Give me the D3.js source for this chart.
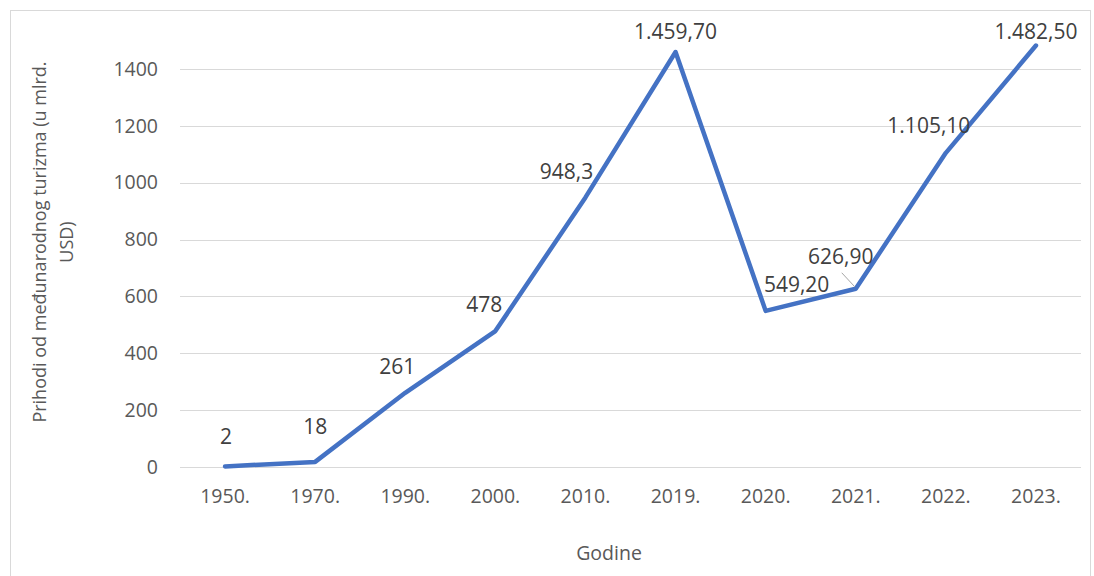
<!DOCTYPE html>
<html>
<head>
<meta charset="utf-8">
<script src="https://cdn.jsdelivr.net/npm/d3@7"></script>
<style>
  body { margin: 0; background: #fff; }
  svg text { font-family: "Open Sans", "Noto Sans", sans-serif; }
</style>
</head>
<body>
<div id="chart"></div>
<script>
const years = ["1950.", "1970.", "1990.", "2000.", "2010.", "2019.", "2020.", "2021.", "2022.", "2023."];
const revenue = [2, 18, 261, 478, 948.3, 1459.7, 549.2, 626.9, 1105.1, 1482.5];
const valueLabels = ["2", "18", "261", "478", "948,3", "1.459,70", "549,20", "626,90", "1.105,10", "1.482,50"];
const yTicks = [0, 200, 400, 600, 800, 1000, 1200, 1400];

// label placement relative to the point (px), like Excel's manual placements
const labelOffsets = [[1, -30], [0, -35], [-8, -26], [-11, -26], [-19, -26], [0, -20], [31, -26], [-15, -32], [-17, -27], [0, -14]];

const width = 1094, height = 576;
const margin = { top: 10, right: 13, bottom: 109, left: 180 };

const svg = d3.select("#chart").append("svg")
    .attr("width", width)
    .attr("height", height);

svg.append("rect")
    .attr("x", 10.5).attr("y", 10.5)
    .attr("width", 1080).attr("height", 575)
    .attr("fill", "#fff")
    .attr("stroke", "#d9d9d9");

const x = d3.scaleBand()
    .domain(years)
    .range([margin.left, width - margin.right]);

const y = d3.scaleLinear()
    .domain([0, 1400])
    .range([467, 69]);

// gridlines
svg.append("g")
    .selectAll("line")
    .data(yTicks)
    .enter().append("line")
    .attr("x1", x.range()[0])
    .attr("x2", x.range()[1])
    .attr("y1", d => Math.round(y(d)) + 0.5)
    .attr("y2", d => Math.round(y(d)) + 0.5)
    .attr("stroke", "#d9d9d9")
    .attr("stroke-width", 1);

// y axis labels
svg.append("g")
    .attr("transform", `translate(${x.range()[0] - 22},0)`)
    .call(d3.axisLeft(y).tickValues(yTicks).tickSize(0).tickPadding(0).tickFormat(d3.format("d")))
    .call(g => g.select(".domain").remove())
    .selectAll("text")
    .style("font-size", "19.5px")
    .attr("fill", "#595959");

// x axis labels
svg.append("g")
    .attr("transform", `translate(0,${y(0)})`)
    .call(d3.axisBottom(x).tickSize(0).tickPadding(22))
    .call(g => g.select(".domain").remove())
    .selectAll("text")
    .style("font-size", "19.5px")
    .attr("fill", "#595959");

// axis titles
const yTitle = svg.append("text")
    .attr("transform", "translate(40,242) rotate(-90)")
    .attr("text-anchor", "middle")
    .attr("fill", "#595959")
    .style("font-size", "18px");
yTitle.append("tspan").attr("x", 0).attr("dy", "0.35em").text("Prihodi od međunarodnog turizma (u mlrd.");
yTitle.append("tspan").attr("x", 0).attr("dy", "1.5em").text("USD)");

svg.append("text")
    .attr("x", 609).attr("y", 560)
    .attr("text-anchor", "middle")
    .attr("fill", "#595959")
    .style("font-size", "19.5px")
    .text("Godine");

// line
const line = d3.line()
    .x((d, i) => x(years[i]) + x.bandwidth() / 2)
    .y(d => y(d));

svg.append("path")
    .datum(revenue)
    .attr("d", line)
    .attr("fill", "none")
    .attr("stroke", "#4472c4")
    .attr("stroke-width", 4.5)
    .attr("stroke-linejoin", "round")
    .attr("stroke-linecap", "round");

// leader line for 2021 label
const i21 = years.indexOf("2021.");
svg.append("line")
    .attr("x1", x(years[i21]) + x.bandwidth() / 2 - 1)
    .attr("y1", y(revenue[i21]) - 2)
    .attr("x2", x(years[i21]) + x.bandwidth() / 2 - 14)
    .attr("y2", y(revenue[i21]) - 16)
    .attr("stroke", "#a6a6a6")
    .attr("stroke-width", 1);

// data labels
svg.append("g")
    .selectAll("text")
    .data(revenue)
    .enter().append("text")
    .attr("x", (d, i) => x(years[i]) + x.bandwidth() / 2 + labelOffsets[i][0])
    .attr("y", (d, i) => y(d) + labelOffsets[i][1])
    .attr("dy", "0.35em")
    .attr("text-anchor", "middle")
    .attr("fill", "#404040")
    .style("font-size", "21px")
    .text((d, i) => valueLabels[i]);
</script>
</body>
</html>
